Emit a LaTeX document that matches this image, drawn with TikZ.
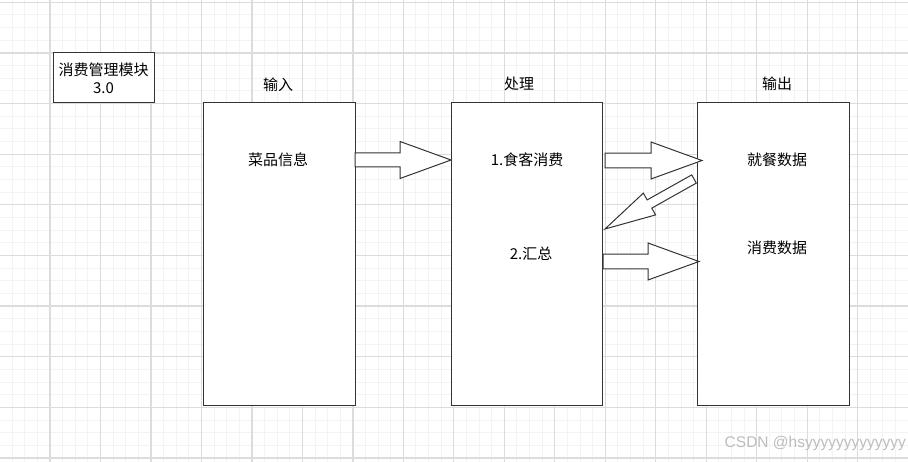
\documentclass[tikz,border=0pt]{standalone}
\usepackage{fontspec}
\setmainfont{Noto Sans CJK SC}
\newfontfamily\wmfont{Liberation Sans}
\usetikzlibrary{positioning, calc}

\definecolor{gridminor}{HTML}{F3F3F3}
\definecolor{gridmajor}{HTML}{DCDCDC}
\definecolor{edge}{HTML}{333333}
\definecolor{wmgray}{HTML}{BDBDBD}

% block arrow: tail, tip, half shaft width, half head width
\newcommand{\blockarrow}[4]{%
  \draw[blockarr] let \p1=($(#2)-(#1)$), \n1={atan2(\y1,\x1)}, \n2={veclen(\x1,\y1)} in
    [shift={(#1)}, rotate=\n1]
    (0,#3) -- ({\n2-51},#3) -- ({\n2-51},#4) -- (\n2,0) -- ({\n2-51},-#4) -- ({\n2-51},-#3) -- (0,-#3) -- cycle;}

\begin{document}
\begin{tikzpicture}[
    x=1pt, y=-1pt,
    font=\fontsize{15}{18.2}\selectfont,
    minorline/.style={gridminor, line width=1pt},
    majorline/.style={gridmajor, line width=1.3pt},
    box/.style={rectangle, draw=edge, line width=1pt, fill=white, minimum width=151.5pt, minimum height=302.5pt, anchor=north west, inner sep=0pt, outer sep=0pt},
    titlebox/.style={rectangle, draw=edge, line width=1pt, fill=white, minimum width=101pt, minimum height=50pt, align=center, inner sep=0pt},
    label/.style={inner sep=0pt},
    blockarr/.style={draw=edge, line width=1pt, fill=white, line join=miter}
  ]
  \useasboundingbox (0,0) rectangle (908,462);
  \fill[white] (0,0) rectangle (908,462);

  % grid
  \foreach \i in {0,...,72} \draw[minorline] ({-0.48+\i*12.62},0) -- ++(0,462);
  \foreach \j in {0,...,37} \draw[minorline] (0,{2.3+\j*12.66}) -- ++(908,0);
  \foreach \i in {0,...,18} \draw[majorline] ({-0.48+\i*50.48},0) -- ++(0,462);
  \foreach \j in {0,...,9} \draw[majorline] (0,{2.3+\j*50.63}) -- ++(908,0);

  % title
  \node[titlebox] (title) at (103.5,78) {消费管理模块\\3.0};

  % columns
  \node[box] (input) at (203.5,103) {};
  \node[box, right=96pt of input.north east, anchor=north west] (proc) {};
  \node[box, right=95pt of proc.north east, anchor=north west] (out) {};

  \node[label] (inlab) at (278,85) {输入};
  \node[label] (proclab) at (519,84) {处理};
  \node[label] (outlab) at (777,84) {输出};

  \node[label] (dish) at (278,160) {菜品信息};
  \node[label] (eat) at (527,160) {1.食客消费};
  \node[label] (sum) at (531,254) {2.汇总};
  \node[label] (meal) at (777,160) {就餐数据};
  \node[label] (spend) at (777,248) {消费数据};

  % arrow ends
  \coordinate (a2s) at (605,160.5);
  \coordinate (a2e) at (702,160.5);
  \coordinate (a3s) at (694,179);
  \coordinate (a3e) at (605,229);
  \coordinate (a4s) at (603,261.5);
  \coordinate (a4e) at (699,261.5);

  \blockarrow{input.east |- dish}{proc.west |- eat}{7}{18.5}
  \blockarrow{a2s}{a2e}{7.3}{18.5}
  \blockarrow{a3s}{a3e}{4.7}{12.5}
  \blockarrow{a4s}{a4e}{7.3}{18.5}

  \node[label, anchor=east, text=wmgray, font=\wmfont\fontsize{15.5}{18}\selectfont] (wm) at (906,443) {CSDN @hsyyyyyyyyyyyyy};
\end{tikzpicture}
\end{document}
